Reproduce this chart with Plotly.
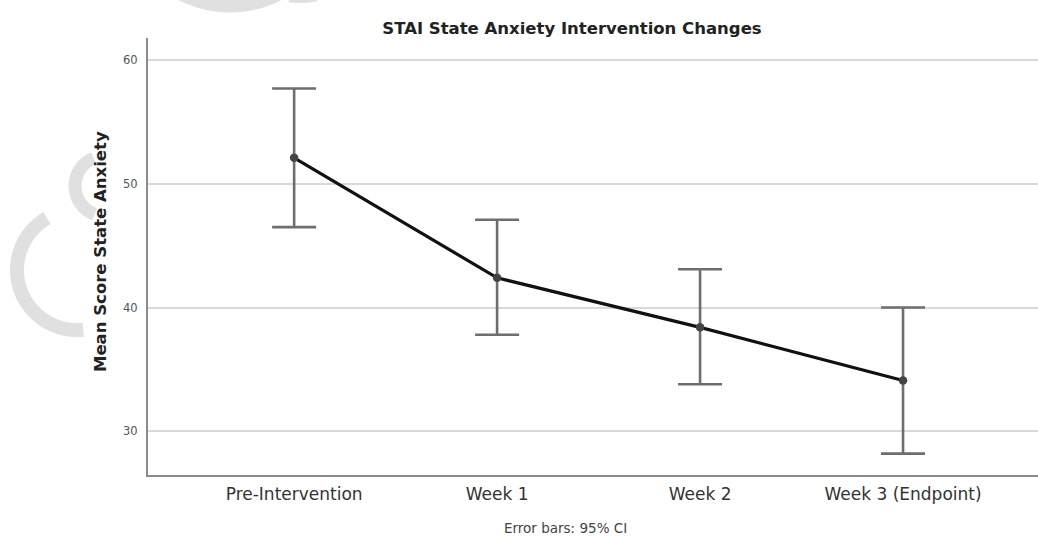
import numpy as np
import plotly.graph_objects as go

# Mean STAI state anxiety scores with 95% confidence limits
timepoints = ["Pre-Intervention", "Week 1", "Week 2", "Week 3 (Endpoint)"]
mean_scores = [52.1, 42.4, 38.4, 34.1]
ci_upper = [57.7, 47.1, 43.1, 40.0]
ci_lower = [46.5, 37.8, 33.8, 28.2]
y_ticks = [30, 40, 50, 60]

W, H = 1038, 538
M_L, M_R, M_T, M_B = 148, 0, 38, 63
PW, PH = W - M_L - M_R, H - M_T - M_B
FONT = "DejaVu Sans, Verdana, sans-serif"

err_plus = [u - m for u, m in zip(ci_upper, mean_scores)]
err_minus = [m - l for m, l in zip(mean_scores, ci_lower)]

fig = go.Figure()
fig.add_trace(go.Scatter(
    x=timepoints,
    y=mean_scores,
    mode="lines+markers",
    line=dict(color="#111111", width=3.2),
    marker=dict(color="#444444", size=8.5),
    error_y=dict(
        type="data",
        array=err_plus,
        arrayminus=err_minus,
        color="#6e6e6e",
        thickness=2.6,
        width=22,
    ),
    showlegend=False,
    hoverinfo="skip",
))


def px_to_paper(px, py):
    return (px - M_L) / PW, (H - M_B - py) / PH


def arc_path(cx, cy, r, a0, a1, n=60):
    """Polyline arc in pixel space (angles in degrees, counter-clockwise, y up)."""
    t = np.radians(np.linspace(a0, a1, n))
    pts = [px_to_paper(cx + r * np.cos(a), cy - r * np.sin(a)) for a in t]
    return "M " + " L ".join(f"{x:.5f},{y:.5f}" for x, y in pts)


# faint logo strokes in the background
mark_color = "rgba(224,224,224,1)"
logo_arcs = [
    (77, 270, 60, 120, 276, 14),
    (105, 186, 30, 112, 250, 13),
    (230, -100, 106, 240, 300, 13),
    (300, -80, 78, 262, 282, 10),
]
for cx, cy, r, a0, a1, w in logo_arcs:
    fig.add_shape(type="path", xref="paper", yref="paper",
                  path=arc_path(cx, cy, r, a0, a1),
                  line=dict(color=mark_color, width=w), layer="below")

fig.update_layout(
    width=W,
    height=H,
    margin=dict(l=M_L, r=M_R, t=M_T, b=M_B),
    paper_bgcolor="white",
    plot_bgcolor="white",
    font=dict(family=FONT, color="#333333"),
    title=dict(
        text="<b>STAI State Anxiety Intervention Changes</b>",
        x=572 / W, xanchor="center",
        y=1 - 28 / H, yanchor="middle",
        font=dict(size=16.5, color="#222222"),
    ),
    xaxis=dict(
        type="category",
        range=[-0.72, 3.665],
        showgrid=False,
        showline=True,
        linecolor="#8c8c8c",
        linewidth=2,
        ticks="",
        ticklabelstandoff=3,
        tickfont=dict(size=17, color="#333333"),
        zeroline=False,
    ),
    yaxis=dict(
        range=[26.47, 61.78],
        tickvals=y_ticks,
        showgrid=True,
        gridcolor="#d9d9d9",
        gridwidth=2,
        showline=True,
        linecolor="#8c8c8c",
        linewidth=2,
        ticks="",
        ticklabelstandoff=6,
        tickfont=dict(size=11.5, color="#555555"),
        zeroline=False,
    ),
    annotations=[
        dict(
            text="<b>Mean Score State Anxiety</b>",
            xref="paper", yref="paper",
            x=(100 - M_L) / PW, y=(H - M_B - 252) / PH,
            xanchor="center", yanchor="middle",
            textangle=-90, showarrow=False,
            font=dict(size=16.5, color="#222222"),
        ),
        dict(
            text="Error bars: 95% CI",
            xref="paper", yref="paper",
            x=(565 - M_L) / PW, y=(H - M_B - 528) / PH,
            xanchor="center", yanchor="middle",
            showarrow=False,
            font=dict(size=13.5, color="#444444"),
        ),
    ],
)

fig.write_html("out.html")
